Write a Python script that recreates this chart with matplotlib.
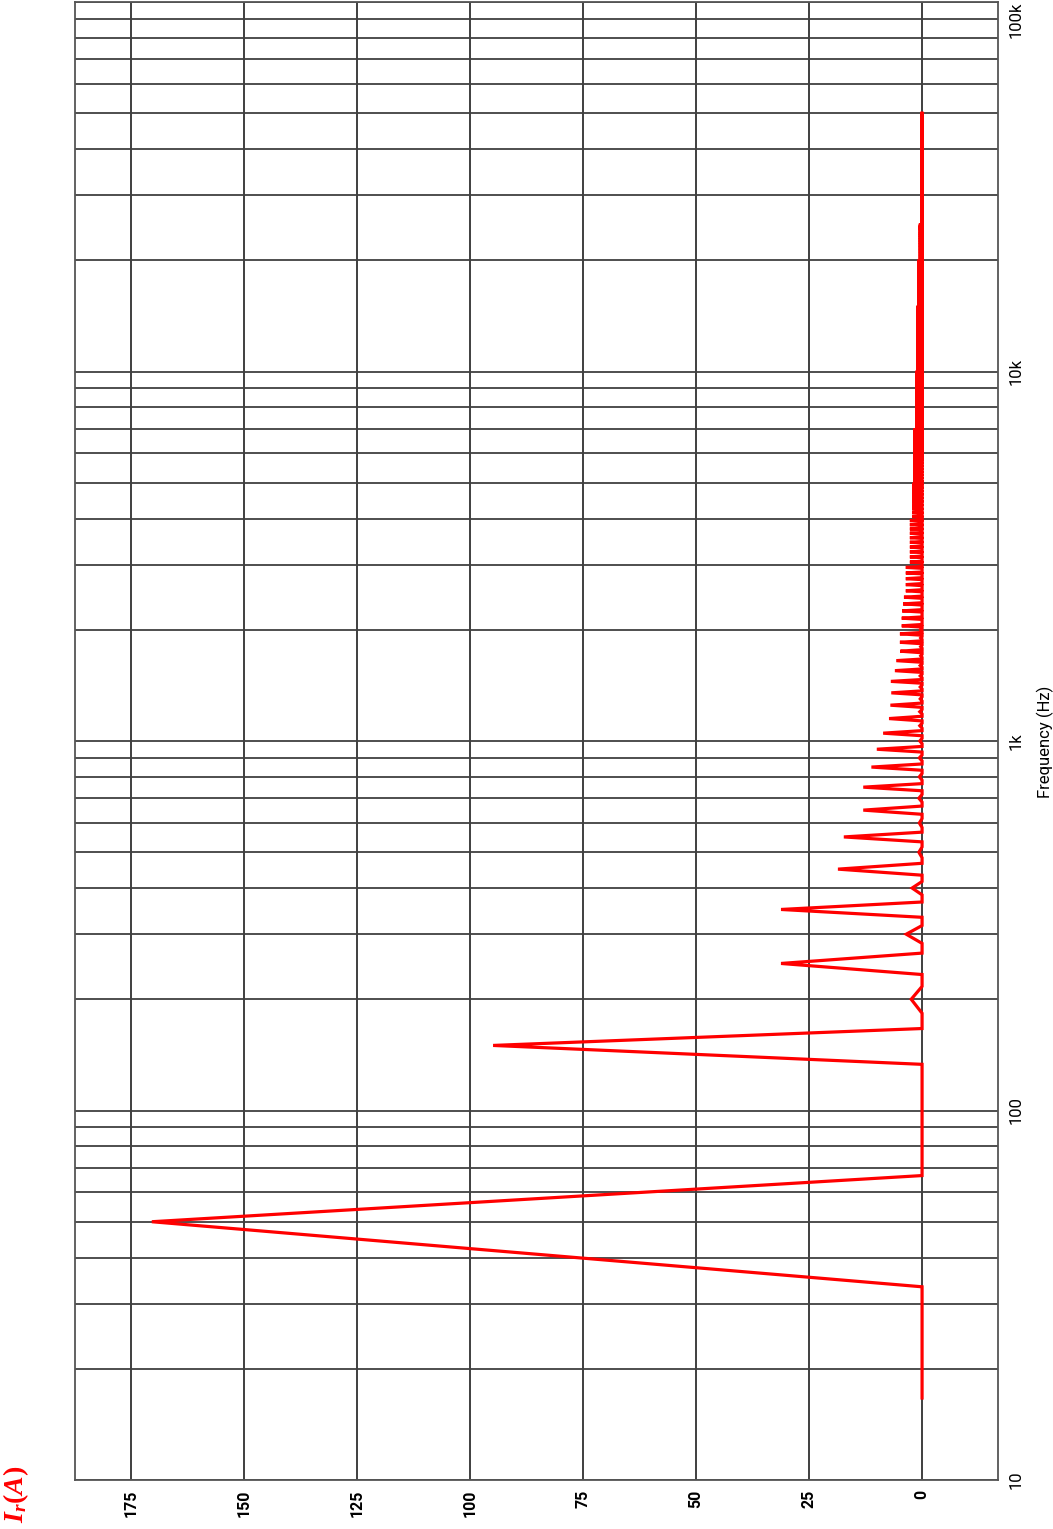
import numpy as np
import matplotlib
matplotlib.use("Agg")
import matplotlib.pyplot as plt
from matplotlib.ticker import FixedLocator, NullFormatter, LogLocator

# ---------------- data ----------------
bin_hz = 50.0 / 3.0            # FFT resolution of the spectrum
n_bins = 3000                  # spectrum runs up to 50 kHz

# individually resolved harmonic lines (Hz, A)
harm_freq_hz = [50, 150, 200, 250, 300, 350, 400, 450, 550, 650, 750, 850,
                950, 1050, 1150, 1250, 1350, 1450, 1550, 1650, 1750, 1850,
                1950, 2050, 2150, 2250, 2350, 2450]
harm_amp_a = [170.4, 94.9, 2.4, 31.2, 3.5, 31.2, 2.2, 18.6, 17.3, 13.0, 13.0,
              11.2, 10.0, 8.6, 7.3, 7.0, 6.8, 6.9, 6.0, 5.7, 4.8, 4.9, 4.9,
              4.5, 4.5, 4.4, 4.2, 4.0]

# small even-order lines between 500 Hz and 2 kHz
even_freq_hz = [500, 600, 700, 800, 900, 1000, 1100, 1200, 1300, 1400,
                1500, 1600, 1700, 1800, 1900, 2000]
even_amp_a = [0.7, 0.6, 0.7, 0.6, 0.6, 0.5, 0.5, 0.5, 0.4, 0.4,
              0.4, 0.4, 0.3, 0.3, 0.3, 0.3]

# dense comb of odd harmonics above 2.5 kHz: amplitude per band (Hz, A)
hf_band_lo_hz = [2500, 3000, 4000, 5000, 7000, 10000, 15000, 20000, 25000]
hf_band_hi_hz = [3000, 4000, 5000, 7000, 10000, 15000, 20000, 25000, 50001]
hf_band_amp_a = [3.6, 2.7, 2.2, 1.9, 1.5, 1.2, 0.95, 0.7, 0.3]

amp_ticks = [0, 25, 50, 75, 100, 125, 150, 175]
amp_labels = ["0", "25", "50", "75", "100", "125", "150", "175"]
freq_ticks = [10, 100, 1000, 10000, 100000]
freq_labels = ["10", "100", "1k", "10k", "100k"]

# ---------------- build spectrum on the bin grid ----------------
freq = np.arange(1, n_bins + 1) * bin_hz
amp = np.zeros_like(freq)
for f, a in zip(harm_freq_hz, harm_amp_a):
    amp[int(round(f / bin_hz)) - 1] = a
for f, a in zip(even_freq_hz, even_amp_a):
    amp[int(round(f / bin_hz)) - 1] = a
for lo, hi, a in zip(hf_band_lo_hz, hf_band_hi_hz, hf_band_amp_a):
    for h in range(51, 1001, 2):
        f = h * 50
        if lo <= f < hi and f > harm_freq_hz[-1]:
            amp[int(round(f / bin_hz)) - 1] = a

# ---------------- figure ----------------
W, H = 1053, 1529
fig = plt.figure(figsize=(W / 100, H / 100), dpi=100)
ax = fig.add_axes([75 / W, 1 - 1480 / H, 923 / W, 1478 / H])

ax.set_yscale("log")
ax.set_ylim(10, 1e5)
ax.set_xlim(187.4, -16.8)

ax.yaxis.set_major_locator(FixedLocator(freq_ticks))
ax.yaxis.set_minor_locator(LogLocator(base=10, subs=range(2, 10)))
ax.yaxis.set_minor_formatter(NullFormatter())
ax.xaxis.set_major_locator(FixedLocator(amp_ticks))

ax.grid(which="both", axis="y", color="#404040", lw=1.3)
ax.grid(which="major", axis="x", color="#303030", lw=1.3)
ax.set_axisbelow(True)

ax.plot(amp, freq, color="#ff0000", lw=2.3, solid_joinstyle="miter")

narrow = ["Roboto", "Liberation Sans", "DejaVu Sans"]
ax.yaxis.tick_right()
ylabs = ax.set_yticklabels(freq_labels, rotation=90, va="center", ha="left",
                           family=narrow, fontsize=12)
ylabs[-1].set_va("top")
ax.set_xticklabels(amp_labels, rotation=90, ha="center", va="top",
                   family=narrow, fontsize=11.5, fontweight="bold")
ax.tick_params(axis="both", which="both", length=0)
ax.tick_params(axis="y", pad=8)
ax.tick_params(axis="x", pad=7)

for s in ax.spines.values():
    s.set_color("#555555")
    s.set_linewidth(1.3)

fig.text(1045 / W, 1 - 742 / H, "Frequency (Hz)", rotation=90, ha="center",
         va="center", family=narrow, fontsize=12)

plt.rcParams["mathtext.fontset"] = "custom"
plt.rcParams["mathtext.it"] = "Liberation Serif:italic:bold"
plt.rcParams["mathtext.rm"] = "Liberation Serif:bold"
fig.text(16 / W, 1 - 1494 / H, r"$I_r(A)$", rotation=90, ha="center",
         va="center", color="#ff0000", fontsize=20)

fig.savefig("out.png", dpi=100)
